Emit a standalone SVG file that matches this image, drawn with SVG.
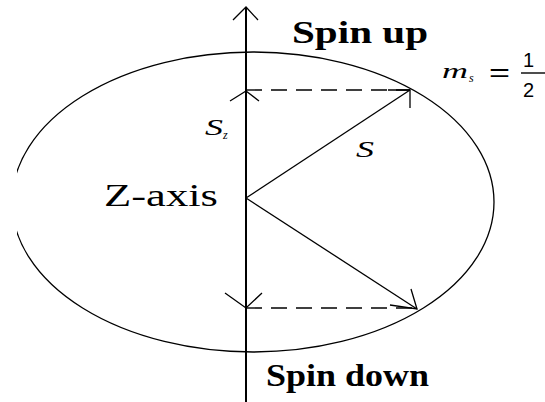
<svg xmlns="http://www.w3.org/2000/svg" width="545" height="402" viewBox="0 0 545 402">
<style>
.ln{stroke:#000;fill:none;stroke-width:1.3}
.ax{stroke:#000;fill:none;stroke-width:2}
.dash{stroke:#000;fill:none;stroke-width:1.4;stroke-dasharray:16 9}
text{fill:#000}
</style>
<defs>
<clipPath id="clip"><rect x="17" y="0" width="528" height="402"/></clipPath>
</defs>
<rect width="545" height="402" fill="#fff"/>
<g id="circle">
<ellipse class="ln" cx="253" cy="202" rx="241" ry="150" clip-path="url(#clip)"/>
</g>
<g id="z-axis">
<line class="ax" x1="246" y1="7" x2="246" y2="402"/>
<polyline class="ln" points="233,20 246,7 258,20"/>
</g>
<g id="connectors">
<line class="dash" x1="246" y1="90" x2="410" y2="90"/>
<line class="dash" x1="246" y1="308" x2="417" y2="308"/>
<line class="ln" x1="246" y1="198" x2="410" y2="90"/>
<polyline class="ln" points="388,90 410,90 410,108"/>
<line class="ln" x1="246" y1="198" x2="417" y2="309"/>
<polyline class="ln" points="411,289 417,309 390,305"/>
<polyline class="ln" points="230,101 246,91 259,101"/>
<polyline class="ln" points="225,293 246,308 262,293"/>
</g>
<g id="labels" font-family="Liberation Serif, Times New Roman, serif">
<text x="292" y="43" font-size="32" font-weight="bold" textLength="136" lengthAdjust="spacingAndGlyphs">Spin up</text>
<text x="266" y="386" font-size="32" font-weight="bold" textLength="163" lengthAdjust="spacingAndGlyphs">Spin down</text>
<text x="104" y="206" font-size="31" textLength="114" lengthAdjust="spacingAndGlyphs">Z-axis</text>
<text x="356" y="157" font-size="24" font-style="italic" textLength="18" lengthAdjust="spacingAndGlyphs">S</text>
<text x="205" y="135" font-size="23" font-style="italic" textLength="18" lengthAdjust="spacingAndGlyphs">S</text>
<text x="223" y="139" font-size="12" font-style="italic">z</text>
<text x="442" y="78" font-size="20" font-style="italic" textLength="26" lengthAdjust="spacingAndGlyphs">m</text>
<text x="469" y="82" font-size="12" font-style="italic">s</text>
<text x="489" y="81" font-size="26" font-family="Liberation Sans, Arial, sans-serif" textLength="21" lengthAdjust="spacingAndGlyphs">=</text>
<text x="523" y="67" font-size="20" font-family="Liberation Sans, Arial, sans-serif">1</text>
<line x1="521" y1="73" x2="545" y2="73" stroke="#000" stroke-width="1.4"/>
<text x="523" y="97" font-size="20" font-family="Liberation Sans, Arial, sans-serif">2</text>
</g>
</svg>
